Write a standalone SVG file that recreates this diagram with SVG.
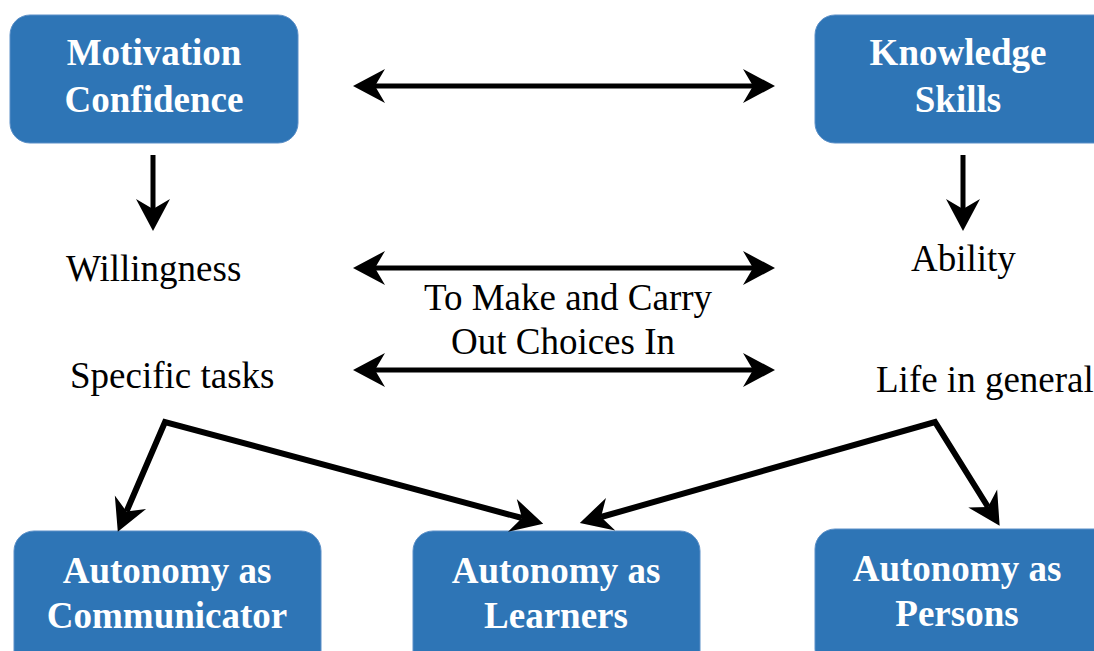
<svg xmlns="http://www.w3.org/2000/svg" width="1094" height="651" viewBox="0 0 1094 651">
  <style>
    .box { fill: #2E75B6; stroke: #5B8FC7; stroke-width: 1; }
    .boxtxt { font-family: "Liberation Serif", "Times New Roman", serif; font-weight: bold; font-size: 37px; fill: #FFFFFF; text-anchor: middle; }
    .lbl { font-family: "Liberation Serif", "Times New Roman", serif; font-size: 37px; fill: #000000; }
    .conn { fill: none; stroke: #000000; stroke-width: 5; stroke-linejoin: miter; }
    .thick { stroke-width: 6; }
  </style>
  <defs>
    <marker id="head" markerUnits="userSpaceOnUse" markerWidth="40" markerHeight="40" viewBox="-2 -20 40 40" refX="10" refY="0" orient="auto-start-reverse">
      <path d="M0,-17 L32,0 L0,17 L10,0 Z" fill="#000000"/>
    </marker>
  </defs>

  <rect width="1094" height="651" fill="#FFFFFF"/>

  <!-- nodes -->
  <g id="motivation">
    <rect class="box" x="10" y="15" width="288" height="128" rx="20"/>
    <text class="boxtxt" x="154" y="65">Motivation</text>
    <text class="boxtxt" x="154" y="112">Confidence</text>
  </g>
  <g id="knowledge">
    <rect class="box" x="815" y="15" width="300" height="128" rx="20"/>
    <text class="boxtxt" x="958" y="65">Knowledge</text>
    <text class="boxtxt" x="958" y="112">Skills</text>
  </g>
  <g id="willingness">
    <text class="lbl" x="66" y="281">Willingness</text>
  </g>
  <g id="ability">
    <text class="lbl" x="911" y="271">Ability</text>
  </g>
  <g id="specific-tasks">
    <text class="lbl" x="70" y="388">Specific tasks</text>
  </g>
  <g id="life-in-general">
    <text class="lbl" x="876" y="392">Life in general</text>
  </g>
  <g id="choices">
    <text class="lbl" x="568" y="310" text-anchor="middle">To Make and Carry</text>
    <text class="lbl" x="563" y="354" text-anchor="middle">Out Choices In</text>
  </g>
  <g id="communicator">
    <rect class="box" x="14" y="531" width="307" height="140" rx="20"/>
    <text class="boxtxt" x="167" y="583">Autonomy as</text>
    <text class="boxtxt" x="167" y="628">Communicator</text>
  </g>
  <g id="learners">
    <rect class="box" x="413" y="531" width="287" height="140" rx="20"/>
    <text class="boxtxt" x="556" y="583">Autonomy as</text>
    <text class="boxtxt" x="556" y="628">Learners</text>
  </g>
  <g id="persons">
    <rect class="box" x="815" y="529" width="300" height="140" rx="20"/>
    <text class="boxtxt" x="957" y="581">Autonomy as</text>
    <text class="boxtxt" x="957" y="626">Persons</text>
  </g>

  <!-- connectors -->
  <g id="connectors">
    <path class="conn" d="M375,86 L753,86" marker-start="url(#head)" marker-end="url(#head)"/>
    <path class="conn" d="M375,268 L753,268" marker-start="url(#head)" marker-end="url(#head)"/>
    <path class="conn" d="M375,370 L753,370" marker-start="url(#head)" marker-end="url(#head)"/>
    <path class="conn" d="M153,155 L153,209" marker-end="url(#head)"/>
    <path class="conn" d="M963,155 L963,209" marker-end="url(#head)"/>
    <path class="conn thick" d="M126.5,511.5 L165,422 L522,518" marker-start="url(#head)" marker-end="url(#head)"/>
    <path class="conn thick" d="M601,517 L935,422 L988,507" marker-start="url(#head)" marker-end="url(#head)"/>
  </g>
</svg>
